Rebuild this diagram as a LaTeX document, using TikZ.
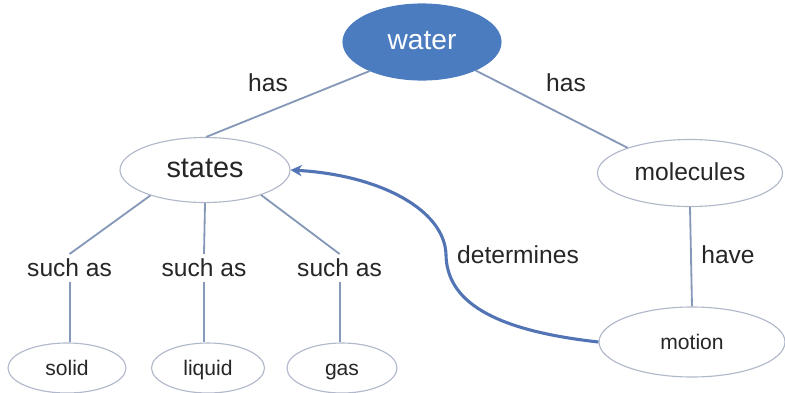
\documentclass[tikz,border=0pt]{standalone}
\usepackage{fontspec}
\setmainfont{Liberation Sans}
\definecolor{cmblue}{RGB}{76,124,192}
\definecolor{cmline}{RGB}{134,152,184}
\definecolor{cmedge}{RGB}{176,184,202}
\definecolor{cmarrow}{RGB}{82,116,180}
\usepackage{tikz}
\usetikzlibrary{shapes.geometric, arrows.meta}

\begin{document}
\begin{tikzpicture}[
    every node/.style={font=\fontsize{17.5}{20}\selectfont, text=black!85},
    concept/.style={ellipse, draw=cmedge, line width=0.8pt, fill=white, inner sep=0pt,
                    text height=1.1em, text depth=0pt},
    small/.style={concept, font=\fontsize{15}{17}\selectfont, minimum height=1.25cm},
    link/.style={draw=cmline, line width=1.3pt},
    cause/.style={draw=cmarrow, line width=2.2pt, -{Stealth[length=8pt, width=8pt]}}
]
\useasboundingbox (0,0) rectangle (19.625,9.8);
\node[concept, fill=cmblue, draw=cmblue, text=white, font=\fontsize{20}{22}\selectfont,
      minimum width=3.95cm, minimum height=1.9cm] (water) at (10.55,8.75) {water};
\node[concept, font=\fontsize{20.5}{22}\selectfont,
      minimum width=4.25cm, minimum height=1.625cm] (states) at (5.125,5.55) {states};
\node[concept, minimum width=4.625cm, minimum height=1.675cm] (molecules) at (17.25,5.475) {molecules};
\node[small, minimum width=4.65cm, minimum height=1.75cm] (motion) at (17.3,1.25) {motion};
\node[small, minimum width=2.95cm] (solid) at (1.675,0.6) {solid};
\node[small, minimum width=2.825cm] (liquid) at (5.2,0.6) {liquid};
\node[small, minimum width=2.75cm] (gas) at (8.55,0.6) {gas};

\node (has1) at (6.7,7.725) {has};
\node (has2) at (14.15,7.725) {has};
\node (such1) at (1.74,3.1) {such as};
\node (such2) at (5.1,3.1) {such as};
\node (such3) at (8.49,3.1) {such as};
\node (determines) at (12.95,3.425) {determines};
\node (have) at (18.2,3.425) {have};
\coordinate (bend) at (11.15,3.425);

\draw[link] (water.209) -- (states.88);
\draw[link] (water.332) -- (molecules.158);
\draw[link] (states.205) -- (such1.north);
\draw[link] (states.south) -- (such2.north);
\draw[link] (states.336) -- (such3.north);
\draw[link] (such1.south) -- (such1.south |- solid.north);
\draw[link] (such2.south) -- (such2.south |- liquid.north);
\draw[link] (such3.south) -- (such3.south |- gas.north);
\draw[link] (molecules.south) -- (motion.north);
\draw[cause] (motion.west) .. controls (12.25,1.55) and (11.175,2.3) .. (bend)
    .. controls (11.125,4.55) and (9.5,5.425) .. (states.east);
\end{tikzpicture}
\end{document}
